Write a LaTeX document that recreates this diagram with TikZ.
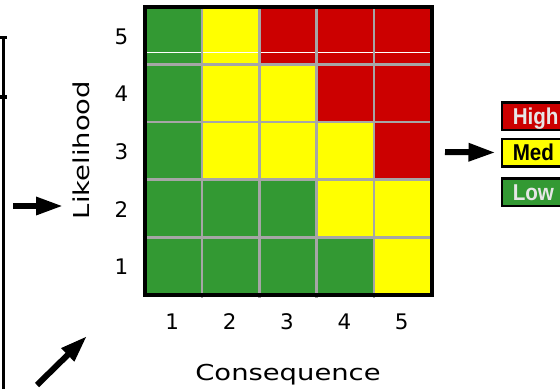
\documentclass[tikz,border=0pt]{standalone}
\usepackage{fontspec}
\setmainfont{DejaVu Sans}
\newfontfamily\axisfont[FakeStretch=1.25]{DejaVu Sans}
\newfontfamily\legendfont[FakeStretch=0.9]{Liberation Sans}
\usetikzlibrary{arrows.meta, positioning}
\definecolor{riskg}{HTML}{339933}
\definecolor{risky}{HTML}{FFFF00}
\definecolor{riskr}{HTML}{CC0000}
\definecolor{gridgray}{HTML}{A6A6A6}
\definecolor{legendtext}{HTML}{E6E6E6}

\begin{document}
\begin{tikzpicture}[x=1bp, y=-1bp,
    cell/.style={inner sep=0pt, minimum width=57.4bp, minimum height=57.7bp},
    digit/.style={font=\fontsize{21.5}{21.5}\selectfont},
    axis_label/.style={font=\axisfont\fontsize{22}{22}\selectfont},
    legend/.style={draw=black, line width=2.5bp, anchor=west, text width=62bp, align=left,
        inner xsep=11bp, inner ysep=0pt, minimum height=27.5bp, text height=16.5bp, text depth=0pt,
        font=\legendfont\bfseries\fontsize{23}{23}\selectfont},
    bigarrow/.style={line width=6bp, -{Triangle[length=27bp, width=17bp]}}]
    \useasboundingbox (0,0) rectangle (560,388);

    \foreach \row/\cols in {5/{g,y,r,r,r}, 4/{g,y,y,r,r}, 3/{g,y,y,y,r}, 2/{g,g,g,y,y}, 1/{g,g,g,g,y}} {
        \foreach \c [count=\col] in \cols {
            \node[cell, fill=risk\c] (cell_\row_\col) at ({144.5+57.4*(\col-0.5)}, {6.5+57.7*(5.5-\row)}) {};
        }
    }
    \draw[white, line width=1bp] (146,52.3) -- (430,52.3);
    \foreach \i in {1,...,4} {
        \draw[gridgray, line width=2.7bp] ({144.5+57.4*\i}, 6.5) -- ({144.5+57.4*\i}, 298);
        \draw[gridgray, line width=2.7bp] (142.5, {6.5+57.7*\i}) -- (431.5, {6.5+57.7*\i});
    }
    \draw[line width=4bp] (144.5,6.5) rectangle (431.5,295);

    \foreach \i in {1,...,5} {
        \node[digit] (lik_\i) at (121.5, {6.5+57.7*(5.5-\i)+1}) {\i};
        \node[digit] (cons_\i) at ({144.5+57.4*(\i-0.5)-1}, 321.5) {\i};
    }
    \node[axis_label, anchor=base] (cons_label) at (288,380) {Consequence};
    \node[axis_label, rotate=90, anchor=base] (lik_label) at (89,150) {Likelihood};

    \node[legend, fill=riskr, text=legendtext] (leg_high) at (500.5,116.2) {High};
    \node[legend, fill=risky, text=black] (leg_med) at (500.5,152.5) {Med};
    \node[legend, fill=riskg, text=legendtext] (leg_low) at (500.5,192.3) {Low};

    \draw[line width=3bp] (3,37) -- (3,390);
    \fill (0,35.5) rectangle (6.5,39);
    \fill (0,95) rectangle (6.5,98.5);

    \coordinate (lik_arrow_tail) at (13,206);
    \coordinate (lik_arrow_tip) at (63,206);
    \coordinate (leg_arrow_tail) at (445,152);
    \coordinate (diag_arrow_tail) at (37,385);
    \coordinate (diag_arrow_tip) at (87,336);
    \draw[bigarrow] (lik_arrow_tail) -- (lik_arrow_tip);
    \draw[bigarrow] (leg_arrow_tail) -- ([xshift=-5bp]leg_med.west);
    \draw[bigarrow] (diag_arrow_tail) -- (diag_arrow_tip);
\end{tikzpicture}
\end{document}
